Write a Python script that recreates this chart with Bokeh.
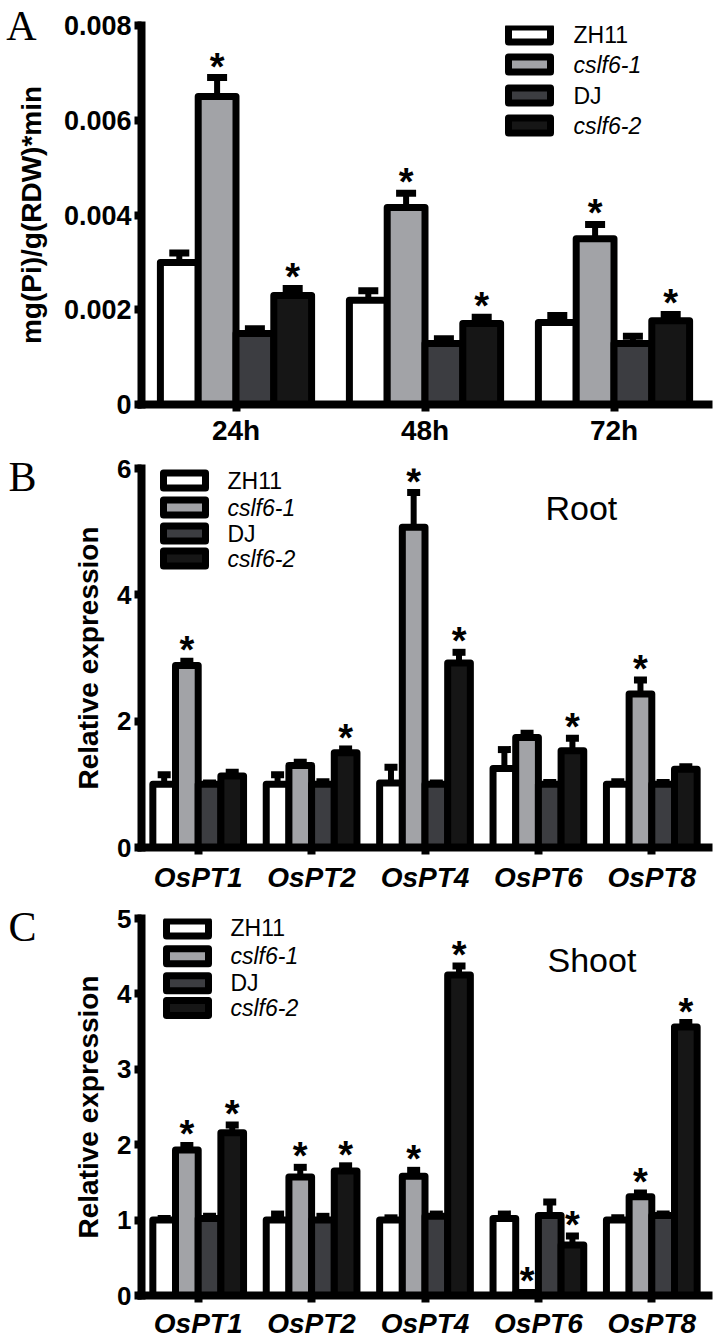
from bokeh.plotting import figure
from bokeh.models import (ColumnDataSource, FactorRange, Range1d, FixedTicker, Label,
                          LinearAxis)
from bokeh.transform import dodge
from bokeh.layouts import column
from bokeh.embed import file_html
from bokeh.resources import INLINE
from bokeh.core.properties import value

# ---------------- data ----------------
series_names = ["ZH11", "cslf6-1", "DJ", "cslf6-2"]
series_italic = [False, True, False, True]

# Panel A: Pi uptake rate
times = ["24h", "48h", "72h"]
A_ZH11 = [0.0030, 0.0022, 0.00173]
A_cslf61 = [0.0065, 0.00416, 0.0035]
A_DJ = [0.0015, 0.00129, 0.00129]
A_cslf62 = [0.0023, 0.00171, 0.00177]
A_ZH11_err = [0.0002, 0.0002, 0.00015]
A_cslf61_err = [0.0004, 0.0003, 0.0003]
A_DJ_err = [0.0001, 0.0001, 0.00015]
A_cslf62_err = [0.00015, 0.00013, 0.00013]
A_sig = [[0, 0, 0], [1, 1, 1], [0, 0, 0], [1, 1, 1]]

# Panel B: Root expression
genes = ["OsPT1", "OsPT2", "OsPT4", "OsPT6", "OsPT8"]
B_ZH11 = [1.0, 1.0, 1.02, 1.25, 1.0]
B_cslf61 = [2.88, 1.3, 5.07, 1.74, 2.43]
B_DJ = [1.0, 1.0, 1.0, 1.0, 1.0]
B_cslf62 = [1.13, 1.5, 2.92, 1.53, 1.24]
B_ZH11_err = [0.15, 0.15, 0.25, 0.3, 0.04]
B_cslf61_err = [0.07, 0.05, 0.55, 0.07, 0.22]
B_DJ_err = [0.02, 0.04, 0.02, 0.03, 0.03]
B_cslf62_err = [0.06, 0.06, 0.17, 0.2, 0.04]
B_sig = [[0, 0, 0, 0, 0], [1, 0, 1, 0, 1], [0, 0, 0, 0, 0], [0, 1, 1, 1, 0]]

# Panel C: Shoot expression
C_ZH11 = [1.0, 1.0, 1.0, 1.02, 1.0]
C_cslf61 = [1.93, 1.57, 1.58, 0.04, 1.31]
C_DJ = [1.02, 1.0, 1.05, 1.06, 1.06]
C_cslf62 = [2.16, 1.65, 4.25, 0.67, 3.56]
C_ZH11_err = [0.02, 0.08, 0.03, 0.06, 0.03]
C_cslf61_err = [0.06, 0.13, 0.08, 0.0, 0.05]
C_DJ_err = [0.03, 0.05, 0.03, 0.18, 0.02]
C_cslf62_err = [0.1, 0.07, 0.12, 0.12, 0.06]
C_sig = [[0, 0, 0, 0, 0], [1, 1, 1, 1, 1], [0, 0, 0, 0, 0], [1, 1, 1, 1, 1]]

# ---------------- style ----------------
FONT = "Liberation Sans"
SERIF = "Liberation Serif"
fill_colors = ["#ffffff", "#a2a3a7", "#3c3d41", "#161616"]
offsets = [-0.3, -0.1, 0.1, 0.3]
BAR_W = 0.2
W = 713
LEFT = 141
RIGHT = 5


def build(cats, vals, errs, sig, y_end, y_ticks, y_over, ylabel, height, page_top,
          b_top, b_bottom, cap_w, letter, letter_t, letter_standoff, italic_x, leg,
          note, x_standoff, ytick_size, ylab_standoff):
    n = len(cats)
    p = figure(x_range=FactorRange(factors=cats), y_range=Range1d(0, y_end),
               width=W, height=height, output_backend="svg", toolbar_location=None,
               min_border_left=LEFT, min_border_right=RIGHT, min_border_top=b_top,
               min_border_bottom=b_bottom)
    p.x_range.range_padding = 0
    p.grid.visible = False
    p.outline_line_color = None
    p.background_fill_color = "white"
    p.border_fill_color = "white"

    ft = page_top + b_top
    fb = page_top + height - b_bottom

    def px_x(px):
        return (px - LEFT) / (W - LEFT - RIGHT) * n

    def px_y(py):
        return (fb - py) / (fb - ft) * y_end

    # bars
    for k in range(4):
        src = ColumnDataSource(dict(cat=cats, top=vals[k]))
        p.vbar(x=dodge("cat", offsets[k], range=p.x_range), top="top", bottom=0,
               width=BAR_W, source=src, fill_color=fill_colors[k],
               line_color="black", line_width=7, line_join="round")
    # error bars + stars
    for k in range(4):
        up = [v + e for v, e in zip(vals[k], errs[k])]
        src = ColumnDataSource(dict(cat=cats, top=vals[k], up=up))
        xd = dodge("cat", offsets[k], range=p.x_range)
        p.segment(x0=xd, x1=xd, y0="top", y1="up", source=src,
                  line_color="black", line_width=6)
        p.rect(x=xd, y="up", width=cap_w, height=7, width_units="screen",
               height_units="screen", source=src, fill_color="black", line_color=None)
        scat = [c for c, s in zip(cats, sig[k]) if s]
        sup = [u for u, s in zip(up, sig[k]) if s]
        if scat:
            ssrc = ColumnDataSource(dict(cat=scat, y=sup))
            p.text(x=dodge("cat", offsets[k], range=p.x_range), y="y", text=value("*"),
                   source=ssrc, text_font=value(FONT), text_font_style="bold",
                   text_font_size="38px", text_align="center",
                   text_baseline="alphabetic", y_offset=-11, text_color="black")

    # legend (manual, for mixed italic labels)
    sw_x, txt_x, rows = leg
    for k in range(4):
        yy = px_y(rows[k])
        p.rect(x=[px_x(sw_x)], y=[yy], width=42, height=15, width_units="screen",
               height_units="screen", fill_color=fill_colors[k], line_color="black",
               line_width=7, line_join="round")
        p.add_layout(Label(x=px_x(txt_x), y=yy, text=series_names[k], text_font=FONT,
                           text_font_size="23px", text_baseline="middle",
                           text_font_style="italic" if series_italic[k] else "normal",
                           text_color="black"))
    if note:
        ntxt, nx, ny = note
        p.add_layout(Label(x=px_x(nx), y=px_y(ny), text=ntxt, text_font=FONT,
                           text_font_size="34px", text_baseline="middle",
                           text_color="black"))

    # axes
    for ax in (p.xaxis[0], p.yaxis[0]):
        ax.axis_line_width = 8
        ax.axis_line_color = "black"
        ax.axis_line_cap = "square"
        ax.major_tick_line_width = 8
        ax.major_tick_line_color = "black"
        ax.major_tick_out = 7
        ax.major_tick_in = 0
        ax.minor_tick_line_color = None
        ax.major_label_text_font = FONT
        ax.major_label_text_font_style = "bold"
        ax.major_label_text_color = "black"
    ya = p.yaxis[0]
    ya.ticker = FixedTicker(ticks=y_ticks)
    ya.major_label_overrides = y_over
    ya.major_label_text_font_size = ytick_size
    ya.major_label_standoff = 3
    ya.axis_label = ylabel
    ya.axis_label_text_font = FONT
    ya.axis_label_text_font_style = "bold"
    ya.axis_label_text_font_size = "28px"
    ya.axis_label_text_color = "black"
    ya.axis_label_standoff = ylab_standoff
    xa = p.xaxis[0]
    xa.major_label_text_font_size = "28px"
    xa.major_label_standoff = x_standoff
    if italic_x:
        xa.major_label_text_font_style = "bold italic"

    # panel letter, as the single tick label of an extra (invisible) left axis
    p.extra_y_ranges = {"letter": Range1d(0, 1)}
    lax = LinearAxis(y_range_name="letter", ticker=FixedTicker(ticks=[letter_t]),
                     major_label_overrides={letter_t: letter},
                     axis_line_color=None, major_tick_line_color=None,
                     minor_tick_line_color=None, major_tick_out=0, major_tick_in=0,
                     major_label_standoff=letter_standoff,
                     major_label_text_font=SERIF, major_label_text_font_size="42px",
                     major_label_text_font_style="normal",
                     major_label_text_color="black")
    p.add_layout(lax, "left")
    return p


pA = build(times, [A_ZH11, A_cslf61, A_DJ, A_cslf62],
           [A_ZH11_err, A_cslf61_err, A_DJ_err, A_cslf62_err], A_sig,
           0.008, [0, 0.002, 0.004, 0.006, 0.008],
           {0: "0", 0.002: "0.002", 0.004: "0.004", 0.006: "0.006", 0.008: "0.008"},
           "mg(Pi)/g(RDW)*min", 449, 0, 25, 45, 20, "A", 1.0, -24, False,
           (529, 573, [34, 64, 95, 125]), None, 3, "27px", 14)

pB = build(genes, [B_ZH11, B_cslf61, B_DJ, B_cslf62],
           [B_ZH11_err, B_cslf61_err, B_DJ_err, B_cslf62_err], B_sig,
           6, [0, 2, 4, 6], {0: "0", 2: "2", 4: "4", 6: "6"},
           "Relative expression", 446, 449, 19, 48, 13, "B", 1.0, 34, True,
           (184, 227, [480, 507, 533, 558]), ("Root", 545, 507), 7, "26px", 10)

pC = build(genes, [C_ZH11, C_cslf61, C_DJ, C_cslf62],
           [C_ZH11_err, C_cslf61_err, C_DJ_err, C_cslf62_err], C_sig,
           5, [0, 1, 2, 3, 4, 5], {0: "0", 1: "1", 2: "2", 3: "3", 4: "4", 5: "5"},
           "Relative expression", 446, 895, 23, 44, 13, "C", 0.9776, 34, True,
           (187, 230, [928, 956, 983, 1008]), ("Shoot", 547, 960), 5, "26px", 10)

layout = column(pA, pB, pC, spacing=0)
open("out.html", "w").write(file_html(layout, INLINE))
